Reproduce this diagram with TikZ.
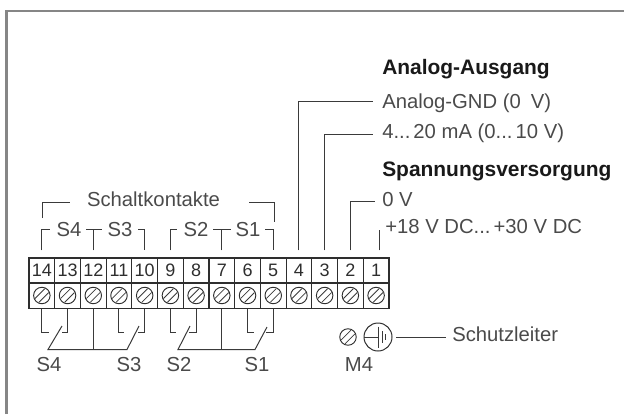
\documentclass[tikz,border=0pt]{standalone}
\usepackage{fontspec}
\setmainfont{Liberation Sans}
\usetikzlibrary{calc}
\definecolor{ink}{HTML}{2E2E2E}
\definecolor{wire}{HTML}{3A3A3A}
\definecolor{txt}{HTML}{4A4A4A}
\tikzset{
  wireline/.style={draw=wire,line width=0.75pt},
  frameline/.style={draw=gray!95,line width=1.6pt},
  numcell/.style={draw=ink,line width=0.85pt,minimum width=25.71*0.75pt,minimum height=25*0.75pt,inner sep=0pt,font=\fontsize{13.5pt}{14pt}\selectfont,text=ink},
  lab/.style={font=\fontsize{15.2pt}{17pt}\selectfont,text=txt,inner sep=0pt,anchor=base west},
  labc/.style={font=\fontsize{15.2pt}{17pt}\selectfont,text=txt,inner sep=0pt,anchor=base},
  head/.style={font=\fontsize{15.7pt}{17pt}\bfseries\selectfont,text=black!90,inner sep=0pt,anchor=base west},
  screwhead/.style={circle,draw=ink,line width=0.7pt,minimum size=16.5*0.75pt,inner sep=0pt},
}
\newcommand{\screwhatch}[1]{%
  \draw[wire,line width=0.6pt] ($(#1)+(-6.9,3.0)$) -- ($(#1)+(3.0,-6.9)$);
  \draw[wire,line width=0.6pt] ($(#1)+(-3.0,6.9)$) -- ($(#1)+(6.9,-3.0)$);
}
\begin{document}
\begin{tikzpicture}[x=0.75pt,y=-0.75pt]
\useasboundingbox (0,0) rectangle (624,414);
% frame
\draw[frameline] (6.5,414) -- (6.5,11) -- (624,11);
% terminals
\foreach \n in {1,...,14}{
  \pgfmathsetmacro{\cx}{29+25.71*(14-\n)+12.85}
  \node[numcell] (t\n) at (\cx,270.5) {\n};
  \node[numcell] (b\n) at (\cx,296) {};
  \node[screwhead] (s\n) at (\cx,295.5) {};
  \screwhatch{s\n}
}
% wire anchors
\foreach \n in {1,...,14}{
  \coordinate (u\n) at ($(t\n.north)+(0,-7)$);
}
\coordinate (u1) at ($(t1.north)+(3,-7)$);
% Upper stubs
\draw[wireline] (u14) |- (50,229);
\node[labc] (ls4) at (69,236) {S4};
\draw[wireline] (u12) -- (u12 |- 0,229);
\draw[wireline] (86,229) -- (102,229);
\node[labc] (ls3) at (120,236) {S3};
\draw[wireline] (138,229) -| (u10);
\draw[wireline] (u9) |- (177,229);
\node[labc] (ls2) at (196,236) {S2};
\draw[wireline] (u7) -- (u7 |- 0,229);
\draw[wireline] (213,229) -- (231,229);
\node[labc] (ls1) at (248,236) {S1};
\draw[wireline] (265,229.5) -| (u5);
% Schaltkontakte bracket
\node[labc] (sk) at (153.5,206) {Schaltkontakte};
\draw[wireline] (42,218) |- (70,202);
\draw[wireline] (249,202) -| (274,222);
% Right-hand connections
\node[head] (h1) at (382,74) {Analog-Ausgang};
\node[lab] (agnd) at (382,108) {Analog-GND (0\hspace{0.5em}V)};
\node[lab] (ma) at (382,138) {4...\hspace{0.15em}20 mA (0...\hspace{0.15em}10 V)};
\node[head] (h2) at (382,176) {Spannungsversorgung};
\node[lab] (zv) at (382,206) {0 V};
\node[lab] (pv) at (385,233) {+18 V DC...\hspace{0.15em}+30 V DC};
\draw[wireline] (u4) |- (373,101);
\draw[wireline] (u3) |- (373,134);
\draw[wireline] (u2) |- (375,201);
\draw[wireline] (u1) -- (u1 |- 0,230);
% Lower contacts
\draw[wireline] (b14.south) |- (49,332);
\draw[wireline] (b11.south) |- (124,332);
\draw[wireline] (b9.south) |- (176,332);
\draw[wireline] (b6.south) |- (254,332);
\draw[wireline] (b13.south) |- (62,332);
\draw[wireline] (b10.south) |- (138,332);
\draw[wireline] (b8.south) |- (189,332);
\draw[wireline] (b5.south) |- (266,332);
\draw[wireline] (b12.south) -- (b12.south |- 0,349.5);
\draw[wireline] (b7.south) -- (b7.south |- 0,349.5);
\draw[wireline] (62,326) -- (48,349.5) -- (127,349.5) -- (139,326);
\draw[wireline] (190,326) -- (178,349.5) -- (255,349.5) -- (267,327);
\node[labc] at (49,371) {S4};
\node[labc] at (129,371) {S3};
\node[labc] at (179,371) {S2};
\node[labc] at (257,371) {S1};
% Earth
\node[screwhead] (m4s) at (348,337) {};
\screwhatch{m4s}
\node[labc] at (359,371) {M4};
\node[circle,draw=ink,line width=0.75pt,minimum size=28*0.75pt,inner sep=0pt] (pe) at (378,337) {};
\draw[wireline] (pe.west) -- (378,337);
\draw[wireline] (378,326.5) -- (378,347.5);
\draw[wireline] (382,331) -- (382,343);
\draw[wireline,line width=0.6pt] (385.5,334) -- (385.5,340);
\node[lab] (sl) at (452,341) {Schutzleiter};
\draw[wireline] (396,337) -- (446,337);
\end{tikzpicture}
\end{document}
